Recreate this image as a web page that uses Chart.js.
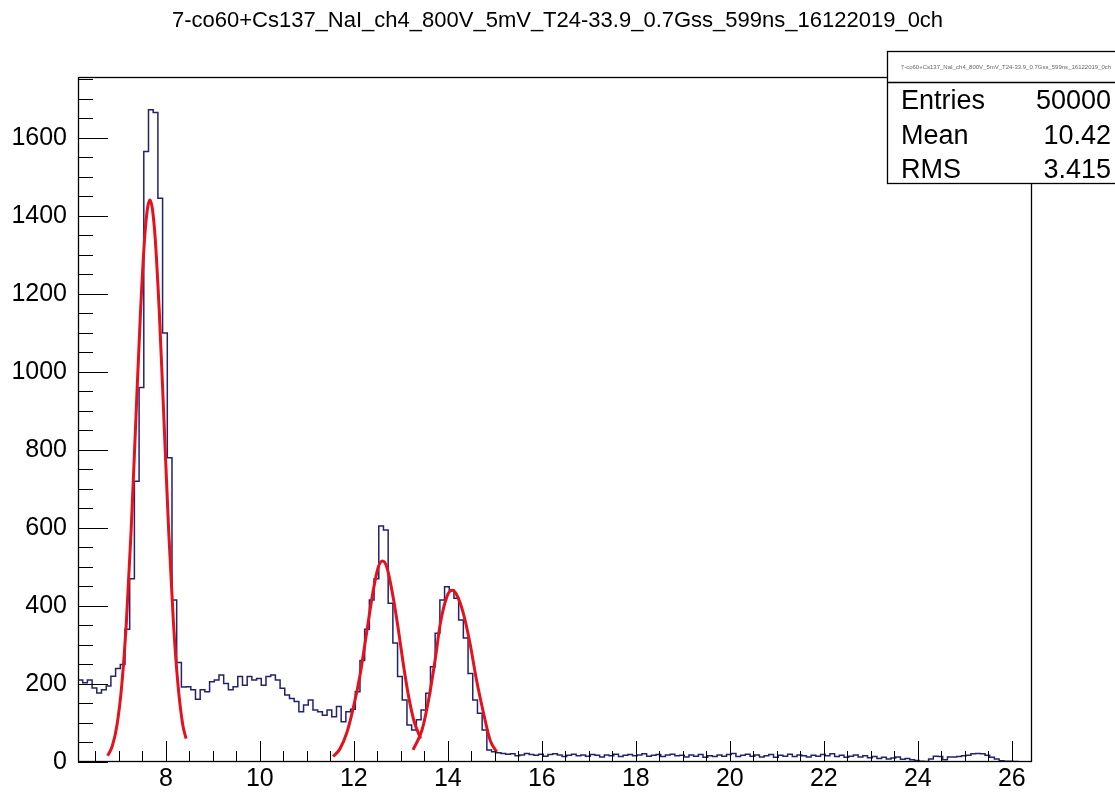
<!DOCTYPE html>
<html>
<head>
<meta charset="utf-8">
<title>7-co60+Cs137_NaI_ch4_800V_5mV_T24-33.9_0.7Gss_599ns_16122019_0ch</title>
<script src="https://cdn.jsdelivr.net/npm/chart.js@4.4.1/dist/chart.umd.min.js"></script>
<style>
  html, body { margin: 0; padding: 0; background: #fff; }
  canvas { display: block; }
</style>
</head>
<body>
<canvas id="spectrum" width="1115" height="793"></canvas>
<script>
// Globals
var histTitle = '7-co60+Cs137_NaI_ch4_800V_5mV_T24-33.9_0.7Gss_599ns_16122019_0ch';
var binLow = 6.13;
var binWidth = 0.1;
var xMin = 6.13;
var xMax = 26.43;
var yMax = 1756;
var xTicks = [8, 10, 12, 14, 16, 18, 20, 22, 24, 26];
var yTicks = [0, 200, 400, 600, 800, 1000, 1200, 1400, 1600];
var xMinorStep = 0.5;
var yMinorStep = 50;
var statNames = ['Entries', 'Mean', 'RMS'];
var statValues = ['50000', '10.42', '3.415'];

// Bin contents, left to right (6.13 .. 26.43, 0.1 wide)
var countsLeft = [210, 203, 210, 190, 177, 185, 195, 220, 240];
var countsPeak1 = [250, 340, 470, 720, 960, 1565, 1672, 1665, 1445, 1100, 780, 415, 255, 192];
var countsShoulder = [193, 185, 161, 185, 180, 206, 210, 223, 201, 185,
  193, 219, 197, 219, 210, 214, 197, 219, 223, 210,
  189, 172, 163, 155, 129, 146, 159, 133, 129, 120,
  133, 116, 142, 103, 129, 135];
var countsPeak23 = [180, 260, 340, 415, 470, 605, 595, 407, 305, 219,
  159, 95, 82, 108, 133, 176, 244, 330, 415, 449,
  441, 420, 364, 318, 227, 159, 125, 82, 31, 26];
var countsTail = [24, 22, 20, 21, 16, 18, 22, 19, 17, 20,
  15, 19, 21, 18, 14, 17, 20, 16, 18, 15,
  19, 17, 13, 18, 16, 20, 14, 17, 19, 16,
  18, 21, 15, 17, 19, 14, 18, 20, 16, 17,
  13, 18, 15, 19, 12, 16, 14, 18, 15, 19,
  22, 14, 17, 20, 15, 18, 13, 16, 19, 12,
  17, 15, 20, 14, 18, 16, 13, 17, 15, 19,
  16, 21, 14, 17, 12, 15, 18, 13, 16, 11,
  14, 9, 12, 8, 10, 13, 7, 9, 6, 4,
  2, 1, 8, 15, 14, 6, 13, 13, 14, 16,
  17, 21, 22, 21, 17, 12, 8, 3, 2, 2,
  1, 0, 0, 0];

// Gaussian fits, [x, y]
var fitPeak1 = [[6.76, 16], [6.86, 41], [6.96, 95], [7.06, 195], [7.16, 359], [7.26, 592],
  [7.36, 874], [7.46, 1154], [7.56, 1363], [7.66, 1441], [7.76, 1363], [7.86, 1154],
  [7.96, 874], [8.06, 592], [8.16, 359], [8.26, 195], [8.36, 95], [8.43, 60]];
var fitPeak2 = [[11.56, 14], [11.70, 33], [11.85, 75], [11.99, 140], [12.13, 222], [12.27, 330],
  [12.41, 438], [12.52, 500], [12.61, 515], [12.70, 500], [12.84, 420], [12.94, 345],
  [13.06, 245], [13.17, 165], [13.28, 105], [13.42, 60]];
var fitPeak3 = [[13.26, 31], [13.45, 82], [13.59, 159], [13.73, 262], [13.84, 355], [13.98, 424],
  [14.09, 440], [14.19, 428], [14.33, 381], [14.47, 305], [14.61, 210], [14.76, 125],
  [14.90, 56], [15.04, 26]];

var allCounts = countsLeft.concat(countsPeak1, countsShoulder, countsPeak23, countsTail);

// Functions
function histPoints(counts) {
  var pts = [];
  for (var i = 0; i < counts.length; i++) {
    pts.push({ x: binLow + i * binWidth, y: counts[i] });
  }
  pts.push({ x: binLow + counts.length * binWidth, y: counts[counts.length - 1] });
  return pts;
}
function fitPoints(pairs) {
  return pairs.map(function (p) { return { x: p[0], y: p[1] }; });
}
function fitDataset(pairs) {
  return {
    data: fitPoints(pairs),
    borderColor: '#e3121c',
    borderWidth: 3,
    pointRadius: 0,
    cubicInterpolationMode: 'monotone',
    order: 1
  };
}

// Frame and inner tick marks, drawn over the histogram
var rootFrame = {
  id: 'rootFrame',
  afterDatasetsDraw: function (chart) {
    var ctx = chart.ctx;
    var area = chart.chartArea;
    var xs = chart.scales.x;
    var ys = chart.scales.y;
    ctx.save();
    ctx.strokeStyle = '#000';
    ctx.lineWidth = 1;
    ctx.beginPath();
    for (var v = Math.ceil(xMin / xMinorStep) * xMinorStep; v <= xMax; v += xMinorStep) {
      var px = Math.round(xs.getPixelForValue(v)) + 0.5;
      var len = xTicks.indexOf(v) >= 0 ? 21 : 11;
      ctx.moveTo(px, area.bottom);
      ctx.lineTo(px, area.bottom - len);
    }
    for (var w = 0; w <= yMax; w += yMinorStep) {
      var py = Math.round(ys.getPixelForValue(w)) + 0.5;
      var ylen = yTicks.indexOf(w) >= 0 ? 30 : 15;
      ctx.moveTo(area.left, py);
      ctx.lineTo(area.left + ylen, py);
    }
    ctx.stroke();
    ctx.lineWidth = 1.3;
    ctx.strokeRect(area.left + 0.5, area.top + 0.5, area.right - area.left - 1, area.bottom - area.top - 1);
    ctx.restore();
  },
  afterDraw: function (chart) {
    var ctx = chart.ctx;
    ctx.save();
    // title
    ctx.fillStyle = '#000';
    ctx.font = '22px "Liberation Sans", Arial, sans-serif';
    ctx.textAlign = 'center';
    ctx.textBaseline = 'alphabetic';
    ctx.fillText(histTitle, 557.5, 27);
    // stats box
    ctx.fillStyle = '#fff';
    ctx.fillRect(887, 51, 240, 132);
    ctx.strokeStyle = '#000';
    ctx.lineWidth = 1.3;
    ctx.strokeRect(887.5, 51.5, 240, 132);
    ctx.beginPath();
    ctx.moveTo(887, 82.5);
    ctx.lineTo(1115, 82.5);
    ctx.stroke();
    ctx.fillStyle = '#666';
    ctx.font = '6px "Liberation Sans", Arial, sans-serif';
    ctx.fillText(histTitle, 1006, 69);
    ctx.fillStyle = '#000';
    ctx.font = '27px "Liberation Sans", Arial, sans-serif';
    for (var i = 0; i < statNames.length; i++) {
      var base = 109 + i * 34.5;
      ctx.textAlign = 'left';
      ctx.fillText(statNames[i], 901, base);
      ctx.textAlign = 'right';
      ctx.fillText(statValues[i], 1111, base);
    }
    ctx.restore();
  }
};

// Chart Creation
var ctx = document.getElementById('spectrum').getContext('2d');
var spectrumChart = new Chart(ctx, {
  type: 'line',
  data: {
    datasets: [
      {
        data: histPoints(allCounts),
        borderColor: '#23236c',
        borderWidth: 1.5,
        pointRadius: 0,
        stepped: true,
        order: 2
      },
      fitDataset(fitPeak1),
      fitDataset(fitPeak2),
      fitDataset(fitPeak3)
    ]
  },
  options: {
    responsive: false,
    animation: false,
    devicePixelRatio: 1,
    layout: { padding: { left: 0, top: 77, right: 83, bottom: 0 } },
    plugins: {
      legend: { display: false },
      tooltip: { enabled: false },
      title: { display: false }
    },
    scales: {
      x: {
        type: 'linear',
        min: xMin,
        max: xMax,
        grid: { display: false, drawTicks: false },
        border: { display: false },
        afterFit: function (scale) { scale.height = 31; },
        afterBuildTicks: function (scale) {
          scale.ticks = xTicks.map(function (v) { return { value: v }; });
        },
        ticks: {
          autoSkip: false,
          maxRotation: 0,
          padding: 2,
          color: '#000',
          font: { family: '"Liberation Sans", Arial, sans-serif', size: 25 },
          callback: function (v) { return String(v); }
        }
      },
      y: {
        type: 'linear',
        min: 0,
        max: yMax,
        grid: { display: false, drawTicks: false },
        border: { display: false },
        afterFit: function (scale) { scale.width = 78; },
        afterBuildTicks: function (scale) {
          scale.ticks = yTicks.map(function (v) { return { value: v }; });
        },
        ticks: {
          padding: 11,
          color: '#000',
          font: { family: '"Liberation Sans", Arial, sans-serif', size: 25 },
          callback: function (v) { return String(v); }
        }
      }
    }
  },
  plugins: [rootFrame]
});
</script>
</body>
</html>
